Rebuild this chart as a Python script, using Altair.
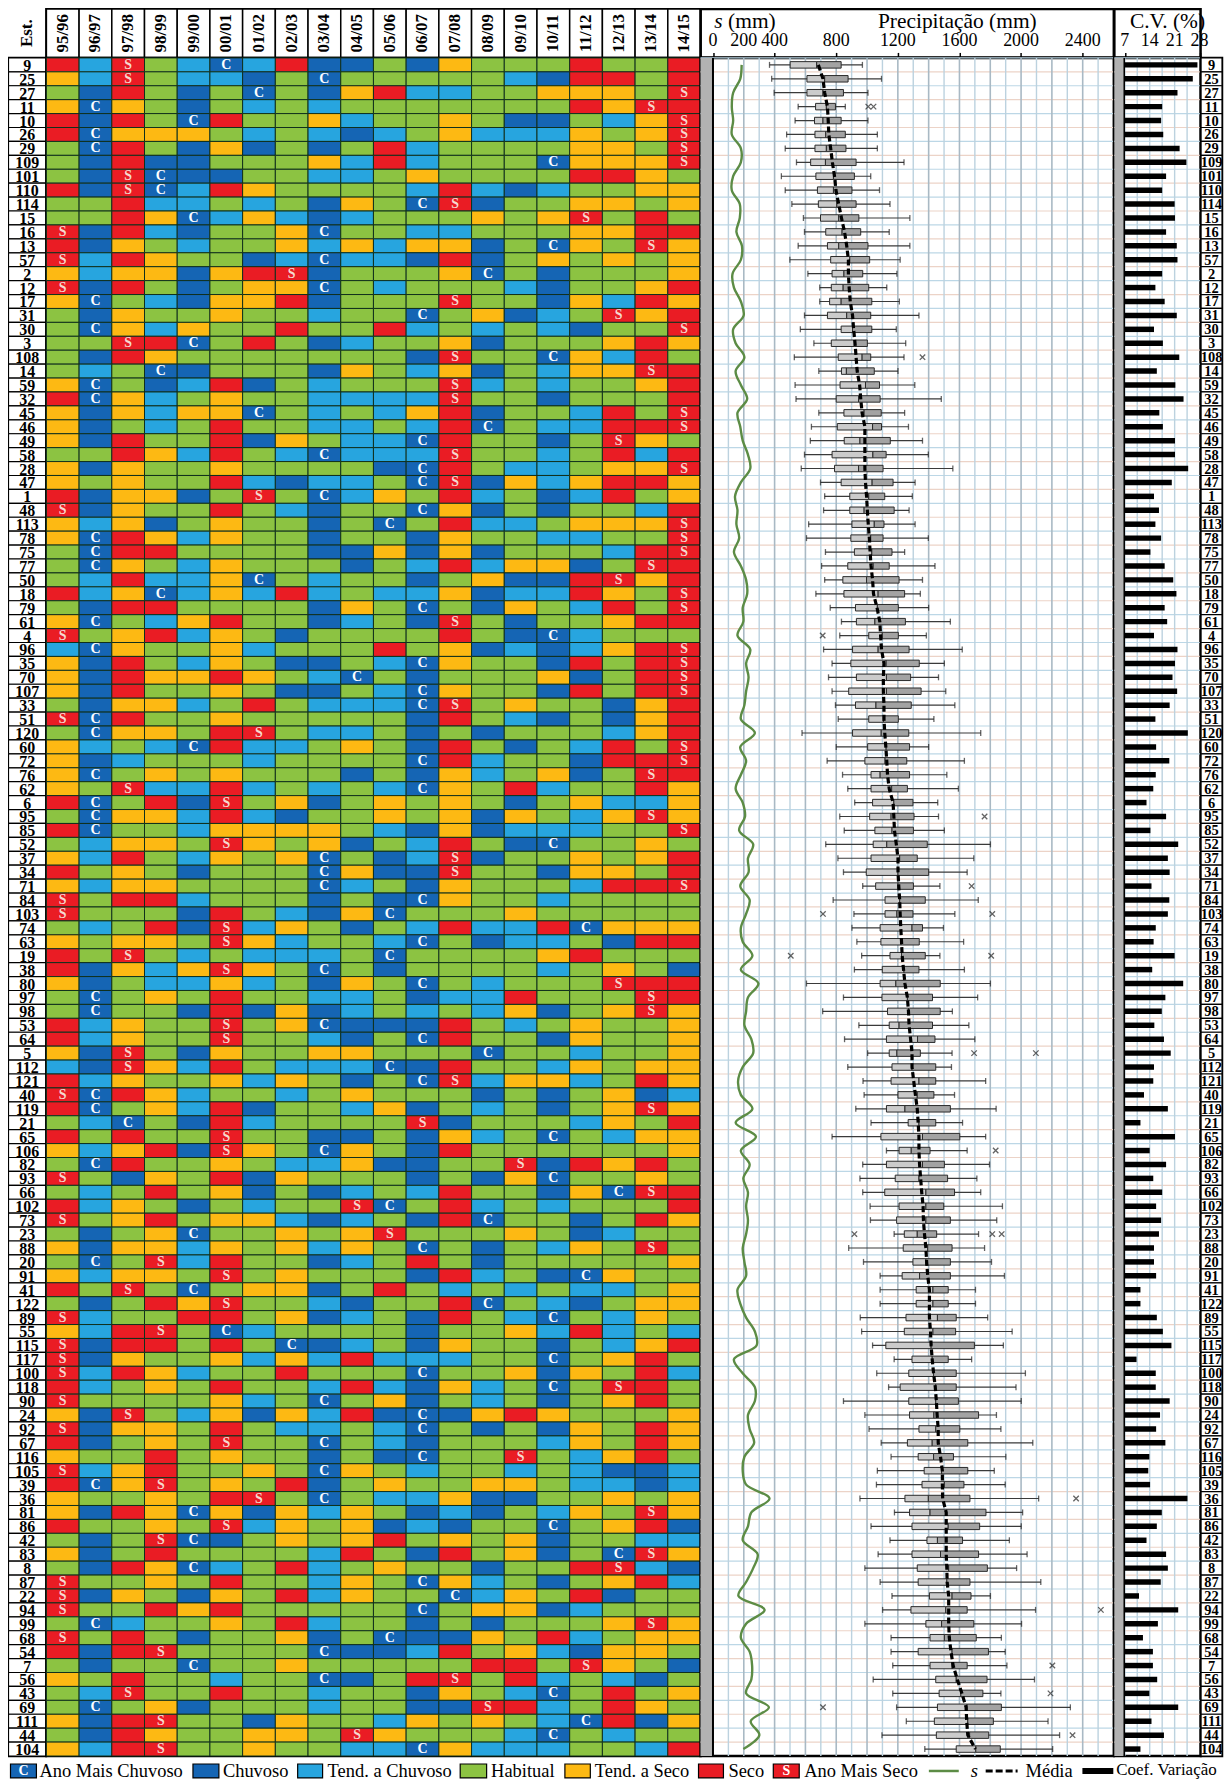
import altair as alt
import pandas as pd

YEARS = ["95/96","96/97","97/98","98/99","99/00","00/01","01/02","02/03","03/04","04/05",
         "05/06","06/07","07/08","08/09","09/10","10/11","11/12","12/13","13/14","14/15"]

EST = [9,25,27,11,10,26,29,109,101,110,114,15,16,13,57,2,12,17,31,30,3,108,
       14,59,32,45,46,49,58,28,47,1,48,113,78,75,77,50,18,79,61,4,96,35,70,107,33,51,
       120,60,72,76,62,6,95,85,52,37,34,71,84,103,74,63,19,38,80,97,98,53,64,5,112,121,
       40,119,21,65,106,82,93,66,102,73,23,88,20,91,41,122,89,55,115,117,100,118,90,24,92,
       67,116,105,39,36,81,86,42,83,8,87,22,94,99,68,54,7,56,43,69,111,44,104]

# C ano mais chuvoso, B chuvoso, L tend. a chuvoso, G habitual, Y tend. a seco, R seco, S ano mais seco
HEAT = """R L S G L C L R B B G B Y G G G R G G R
Y L S G L L B G C G G G G G L B R R G R
G B R G B G C G B Y R L L G G Y Y Y G S
Y C Y G B G L G L G G G G G G G R Y S R
R B R G C R G G Y L G G Y G B B G L Y S
R C Y Y Y G L G L B L G Y L L L Y G Y S
G C R G B Y B G B G R L G G G G Y Y G S
G B R B B G G G Y L R L G G G C Y Y Y S
G B S C B B G G L L G Y G G G G R R Y G
R B S C L R Y G G G G L R L B L G G Y Y
G G R L L G L G B Y G C S B G G Y Y G Y
G G R Y C L Y L B L G G G Y G Y S G R G
S B R L B G G Y C G G L L G G G Y Y R R
R B Y G L G G Y L Y L Y Y B G C Y G S Y
S L R Y G G B L C L L B R B G Y G Y G Y
Y L Y Y B Y R S B G G G Y C G B G G G Y
S B R G B G Y Y C G L G G G L B G G Y R
Y C G L B Y Y R B G G G S G G B Y L R Y
G B Y G G Y G G L G G C G Y B L G S Y R
G C Y L Y G G R G G R L G L G L B G G S
G G S R C G R G B L G G Y B G G G Y R Y
G B R Y G G G G G G G B S G G C Y L R G
G L G C B G G G B Y G L Y B G L Y Y S R
Y C G B L R B G L G G G S L G L G G Y R
R C Y L G Y G G L L L L S G G B G G G R
Y B Y L Y Y C G L G L Y R B G G L R G S
Y B G L G R G G L L G L R C G L L R R S
Y B R G G R B Y G L L C R G G B G S Y G
G G R Y L R G L C L L L S G G L G R L R
Y B Y G G Y G G G G B C R G L L G Y Y S
Y G Y G G R L B L L G C S B Y L Y R R Y
R B Y Y B G S G C L Y G R L G B L R G Y
S B Y G G R G L B G G C Y B G B G G L R
Y L Y B G Y G G B G C G R L L G Y Y Y S
Y C R Y L Y G G B G G B Y G G L L G G S
G C R R G G G G B B Y B Y B G G G L R S
G C Y G L Y G G G B G L R L Y Y B G S R
G L R L L Y C G L G G B G Y B B R S Y R
R L Y C L Y L R L G L L Y B L L R Y G S
G B R R G G G G B Y G C G B Y G L R G S
Y C G L Y R G G B L G B S G B G G Y R R
S G Y R L Y G B G G G G R G B C L G G G
L C Y G G Y L G G G R G Y B L B L Y R S
Y B R G L Y G B B G L C Y G G B R G R S
Y B R Y Y R Y G L C G B G G G Y B G R S
Y B R G G Y G B B G L C Y G G B R G R S
G B Y Y L G R G L L L C S G Y G G B Y R
S C R G G Y G G G G G B R G L B G B Y R
G C Y Y G R S G L L G B G B G G G L Y R
Y L G L C R L L G Y G B R G B G L R G S
Y B L G G G L G G G G C R L G G B R R S
Y C G Y G Y G G G B G B Y L G Y B G S R
Y G S L L R L G L G L C Y G R L G G R Y
R C G R B S G Y B G Y G Y G B G Y L L Y
G C Y Y L R L B G G Y G Y B Y G L Y S Y
R C G G L Y Y Y Y G L B Y B L L L G G S
G L Y Y G S Y G Y B G L R G B C G G Y G
Y L R G L Y G Y C G B L S B G G Y G Y R
R G Y G B G G G C Y B B S G G B Y Y G R
Y L Y Y G G G G C L G B Y G G G L R R S
S G R R L G G G B G B C Y G G L G G G G
S G G G B R G L B Y C G G G Y G G G G G
G L G R B S L Y G B G L R L L R C Y Y Y
Y G Y Y G S Y L G G L C G B L L G B R R
R G S G L G L L L G C G G G G Y R G G G
R B Y L Y S Y G C G B G G G G L G Y G B
Y B G L L Y L G B Y G C G L G G G S R R
G C G Y G R G G L L G B L L R G G G S R
G C G G B R B Y B L G L G L Y B G Y S Y
R L Y G G S G Y C B B B R G L G Y G G Y
R L Y G G S G G L B G C R G G B Y G G Y
Y B S G B Y G G Y Y G G G C G G L G G Y
L B S Y L R G L L L C B R G G L Y G Y Y
R L Y G G Y L Y G B G C S L Y Y L G R Y
S C R Y L G G L G Y G G G B G B G Y B L
R C G Y L R B G G L Y B G L G B G Y S Y
G L C G B R L G G G G S B G G G L Y G R
R G R G G S G G B B G B Y L G C G L Y Y
Y L Y R B S Y G C Y G B R G G G G G G Y
G C R G G Y G L L Y B B G G S B R Y R G
S G B Y G R B Y G G G B G B Y C G G Y G
G L G R G Y B G B L G L R G G B Y C S R
R L Y G B G L G G S C G R L G L G G G R
S G Y R G Y Y L B L G B R C G G B G R Y
G B G Y C G G Y G Y S G G G Y G B L G G
Y B Y Y L Y G Y L Y G C G B G L Y G S G
G C G S L R G G B L G R G B G G G G G Y
Y L Y Y G S G Y G G G B R L G B C Y G G
R G S G C G Y Y B G R G L G L G L L G Y
G B G R Y S G G L B G G R C G L B G Y Y
S L G G R R G Y B L G B R G L C G L Y G
Y L R S G C L G G G G B G G Y L R L G L
S B R R G R G C B L G B Y G G B G L Y R
S B Y G G Y L Y L R L L L G G C G Y R G
S L R Y L G G R G G G C G G Y B Y G R L
R L G Y G R G G L R L B Y L G C G S R G
S G G G G Y L G C G Y B G L G B G Y R G
Y B S G L Y B Y L R B C B Y R Y G G G Y
S B Y Y G R G L L G L C G B G B Y G R Y
R B G Y G S G G C G L B G G G L Y G R Y
Y G G R G Y G G B G B C G G S G L Y R G
S L Y R G G Y G C Y G L G G L G L B B L
R C Y S G Y G R B G Y G G Y Y G L L B L
Y G G Y G R S G C G L L Y B B G G Y G Y
Y B R Y C Y B Y L Y G B L B G L Y G S Y
R G G Y G S L Y G Y B L B G G C G Y R B
G B G S C B G Y G Y R G Y G Y B G G L L
Y B G R G G G G L R G B R G Y B G C S Y
G B R Y C L G R L G Y G G B G G R S L B
S G G Y G R G G L Y G C Y L G B G Y R L
S B Y G B Y G R L Y G G C L Y G R B G G
S G G R Y R G G G G G C G Y Y B L G G G
G C L G G Y G R L G G B G B G G G Y S Y
S G R G B G G Y B G C B B Y G R L G Y Y
R B R S G G G G C B B L R G Y L B Y Y G
G B G G C G G Y G G G G G R R G S Y G B
Y G R G G L G G C B G R S G R L G L B G
G L S G G R G G L G G B Y G L C G R G Y
G C G Y B G G G L G G B B S R L G R Y G
Y B R S G G B Y G G L Y G Y G L C R B Y
G B R Y G G Y Y G S Y G G G L C G L G G
Y L R S G G Y G G L L C Y L L L G G L R""".split("\n")

WHISK_LOW = [367,381,397,553,533,478,469,542,444,469,512,587,594,553,499,616,693,693,594,567,655,528,
 687,533,539,687,639,632,594,573,698,725,718,621,607,730,705,725,668,761,834,823,718,773,750,773,795,813,
 578,800,741,841,875,920,823,852,732,811,847,972,780,915,902,934,965,918,607,847,712,947,854,1004,875,974,
 981,927,1026,773,1126,972,954,972,1020,1022,1176,881,977,1085,1085,1085,956,965,1036,1176,1063,1140,847,986,1013,
 1092,1156,1067,1061,954,1178,1026,1149,1072,986,1085,1162,1101,986,1156,1156,1167,1040,1167,1192,1255,1097,1375]
Q1 = [501,610,610,666,659,662,662,634,668,678,684,698,732,743,764,773,768,757,743,832,768,813,
 834,825,800,850,807,852,773,789,832,888,888,902,895,918,875,843,850,925,931,1011,906,895,931,881,925,1011,
 906,1004,986,1026,1026,1036,1017,1051,1040,1026,995,1056,1117,1117,1085,1090,1149,1099,1085,1097,1133,1144,1126,1144,1162,1156,
 1201,1126,1267,1090,1208,1126,1183,1115,1208,1192,1242,1235,1298,1228,1319,1319,1253,1242,1122,1292,1271,1215,1271,1276,1337,
 1262,1332,1371,1357,1246,1276,1292,1389,1292,1326,1332,1405,1285,1382,1409,1332,1409,1446,1468,1457,1437,1450,1579]
MEDIAN = [673,725,714,736,714,732,736,730,782,782,804,816,838,816,888,850,845,832,868,906,918,968,
 866,990,945,981,1036,954,1038,945,1033,1011,981,1047,1024,1031,1040,997,1072,1067,1051,1099,1072,1124,1126,1126,1058,1106,
 1092,1124,1117,1085,1160,1174,1156,1162,1128,1212,1201,1201,1212,1194,1292,1221,1224,1240,1187,1262,1269,1208,1328,1194,1292,1337,
 1326,1246,1337,1360,1287,1360,1337,1382,1382,1382,1326,1394,1382,1341,1428,1428,1457,1428,1416,1423,1432,1446,1446,1434,1446,
 1423,1432,1484,1502,1398,1409,1527,1457,1477,1530,1518,1552,1511,1484,1502,1552,1552,1579,1609,1650,1654,1666,1706]
Q3 = [832,877,847,795,832,859,863,929,918,902,929,947,959,1006,1017,972,1011,1031,1024,1031,1002,1024,
 1047,1081,1085,1092,1094,1151,1124,1104,1169,1115,1176,1110,1104,1162,1144,1208,1244,1203,1249,1203,1273,1339,1283,1351,1287,1203,
 1271,1276,1258,1276,1262,1298,1305,1301,1391,1326,1400,1301,1378,1298,1360,1339,1378,1337,1475,1425,1475,1425,1441,1346,1446,1446,
 1434,1541,1446,1602,1409,1502,1523,1568,1498,1541,1452,1552,1541,1541,1527,1527,1579,1575,1697,1527,1579,1579,1593,1724,1602,
 1654,1561,1654,1629,1668,1772,1731,1620,1724,1781,1668,1675,1650,1693,1709,1788,1650,1779,1752,1872,1820,1790,1865]
WHISK_HIGH = [970,1094,1006,859,1006,1067,1067,1240,1024,1081,1149,1278,1144,1278,1215,1194,1128,1210,1337,1190,1251,1240,
 1201,1310,1482,1244,1269,1360,1398,1557,1312,1294,1273,1312,1398,1244,1441,1360,1346,1400,1541,1385,1618,1502,1464,1511,1570,1434,
 1738,1400,1632,1518,1593,1459,1464,1502,1801,1693,1650,1473,1722,1570,1496,1627,1473,1632,1801,1718,1554,1661,1700,1552,1548,1770,
 1568,1838,1620,1770,1650,1795,1713,1738,1879,1842,1724,1763,1808,1892,1704,1704,1783,1942,1885,1679,2028,1967,2001,1840,1869,
 2076,1901,1826,1897,2114,2010,2001,1924,2039,1971,2128,1801,2094,2003,1872,1897,1908,2087,1869,2320,2175,2250,2205]
MEAN = [684,714,725,743,748,752,764,775,789,798,816,834,854,868,879,879,884,891,906,913,922,929,
 936,952,959,968,986,986,986,986,990,997,1002,1008,1015,1020,1026,1036,1042,1065,1083,1088,1094,1110,1106,1106,1110,1110,
 1115,1122,1128,1133,1144,1169,1174,1178,1190,1201,1201,1206,1212,1215,1219,1224,1228,1237,1246,1262,1269,1273,1283,1292,1292,1303,
 1314,1326,1332,1337,1337,1341,1348,1355,1364,1366,1373,1382,1387,1394,1405,1405,1405,1412,1416,1423,1432,1443,1450,1455,1462,
 1462,1477,1489,1489,1491,1514,1514,1514,1514,1518,1520,1530,1530,1530,1534,1545,1559,1586,1616,1643,1647,1654,1704]
STD = [186,177,131,122,131,122,181,181,131,122,174,174,152,188,181,127,136,181,199,131,147,204,
 147,181,222,159,177,193,227,242,181,143,159,152,170,136,181,215,222,193,197,159,242,215,231,215,204,181,
 272,177,215,181,147,193,208,170,261,227,231,177,238,215,181,193,256,181,295,227,215,204,249,261,193,163,
 181,256,147,279,181,238,197,227,215,227,215,193,204,215,159,177,215,272,283,136,193,272,272,227,238,
 267,204,193,215,367,249,227,193,290,261,215,165,335,215,181,238,254,249,215,363,245,301,197]
CV = [27.4,26.1,21.8,17.5,17.2,17.8,22.4,24.3,18.6,17.5,21.0,21.1,18.6,21.6,21.8,17.5,15.6,18.2,21.6,15.2,17.7,22.3,
 16.0,21.2,23.5,16.7,17.7,21.1,21.1,24.8,20.2,15.2,16.6,15.6,17.2,14.2,18.2,20.6,21.5,18.2,18.9,15.2,21.8,21.1,20.4,21.7,19.6,15.6,
 24.7,15.8,19.5,15.7,15.0,13.1,18.6,14.2,22.0,19.1,19.6,14.5,19.5,19.1,15.7,15.1,21.0,14.7,23.4,18.4,17.4,15.3,18.0,19.9,15.2,15.0,
 12.4,19.1,11.4,21.1,14.0,18.6,15.0,17.5,15.8,17.2,16.6,15.2,15.2,15.8,11.4,11.4,16.0,17.7,20.1,10.3,15.7,15.7,19.6,16.9,15.8,
 18.4,13.9,13.6,14.1,24.6,17.4,16.0,13.1,18.6,19.1,17.1,11.0,22.0,16.3,12.1,14.9,14.9,16.1,13.9,22.0,14.5,18.0,11.4]

OUT_EST = [11,11,108,4,95,71,103,103,19,19,5,5,106,23,23,23,36,94,7,43,69,44]
OUT_VAL = [1008,1042,1360,712,1763,1679,714,1813,505,1806,1695,2096,1835,918,1813,1874,2357,2518,2203,2191,714,2334]

LEG_SW_X = [2,185,290,453,558,692,767]
LEG_SW_X2 = [28,211,315,479.5,583.5,717,793]
LEG_CODE = ["C","B","L","G","Y","R","S"]
LEG_TXT = ["Ano Mais Chuvoso","Chuvoso","Tend. a Chuvoso","Habitual","Tend. a Seco","Seco","Ano Mais Seco"]
LEG_TXT_X = [31,215,320,484,588,722,798]

CODE_COLORS = {"C":"#1565b4","B":"#1565b4","L":"#27a5df","G":"#8cc342","Y":"#fdb913","R":"#ea1c24","S":"#ea1c24"}

BOX_LABELS = [0, 200, 400, 800, 1200, 1600, 2000, 2400]
CV_LABELS = [7, 14, 21, 28]

FONT = "Liberation Serif"
H_HEAD, H_BODY, H_LEG = 48.5, 1703, 25
W_EST, W_HEAT, W_BOX, W_CV, W_LBL = 37.5, 656, 414.5, 86.5, 21

est = [str(e) for e in EST]
stats = pd.DataFrame(dict(est=est, row=range(len(est)), low=WHISK_LOW, q1=Q1, med=MEDIAN, q3=Q3,
                          high=WHISK_HIGH, mean=MEAN, std=STD, cv=CV))
stats["base"] = 7
stats["parity"] = ["a" if i % 2 else "b" for i in range(len(est))]

heat_rows = []
for e, line in zip(est, HEAT):
    codes = line.split()
    assert len(codes) == len(YEARS), e
    heat_rows += [dict(est=e, year=y, code=c) for y, c in zip(YEARS, codes)]
heat = pd.DataFrame(heat_rows)
assert len(HEAT) == len(est)

Y_SCALE = alt.Scale(type="band", domain=est, paddingInner=0, paddingOuter=0, round=False)
Y_ = alt.Y("est:N", scale=Y_SCALE, axis=None)
YR_SCALE = alt.Scale(type="band", domain=YEARS, paddingInner=0, paddingOuter=0, round=False)
XB = alt.Scale(domain=[-81, 2602], nice=False, zero=False)
XC = alt.Scale(domain=[4.06, 28.28], nice=False, zero=False)
COLOR_SCALE = alt.Scale(domain=list(CODE_COLORS), range=list(CODE_COLORS.values()))
Y_EDGE = alt.Y("est:N", scale=Y_SCALE, axis=None, bandPosition=0)

row_rules = [
    alt.Chart(stats).transform_filter("datum.parity == 'a'").mark_rule(strokeWidth=1.2, color="#ecd3c7").encode(y=Y_EDGE),
    alt.Chart(stats).transform_filter("datum.parity == 'b'").mark_rule(strokeWidth=1.2, color="#bcd7e6").encode(y=Y_EDGE),
]

# ---------- header row
est_head = alt.Chart(pd.DataFrame({"t": ["Est."]})).mark_text(
    font=FONT, fontSize=17, fontWeight="bold", angle=270, color="black").encode(text="t:N").properties(
    width=W_EST, height=H_HEAD)

yr_df = pd.DataFrame({"year": YEARS})
yr_head = alt.layer(
    alt.Chart(yr_df).mark_rect(fill="white", stroke="black", strokeWidth=1.5).encode(
        x=alt.X("year:N", scale=YR_SCALE, axis=None)),
    alt.Chart(yr_df).mark_text(font=FONT, fontSize=17, fontWeight="bold", angle=270, color="black").encode(
        x=alt.X("year:N", scale=YR_SCALE, axis=None), text="year:N"),
).properties(width=W_HEAT, height=H_HEAD)

TITLE_FS, TICK_FS = 21.5, 18
TITLE_Y, TICK_Y = 12.5, 32.5
box_head = alt.layer(
    alt.Chart(pd.DataFrame({"x": [1586], "t": ["Precipitação (mm)"]})).mark_text(
        font=FONT, fontSize=TITLE_FS, align="center", color="black").encode(
        x=alt.X("x:Q", scale=XB, axis=alt.Axis(
            orient="top", offset=-H_HEAD, values=list(range(0, 2600, 200)), title=None, grid=False,
            labels=False, tickColor="black", tickSize=5, tickWidth=1.5, domain=False)),
        y=alt.value(TITLE_Y), text="t:N"),
    alt.Chart(pd.DataFrame({"x": [98], "t": ["(mm)"]})).mark_text(
        font=FONT, fontSize=TITLE_FS, align="left", color="black").encode(
        x=alt.X("x:Q", scale=XB), y=alt.value(TITLE_Y), text="t:N"),
    alt.Chart(pd.DataFrame({"x": [8], "t": ["s"]})).mark_text(
        font=FONT, fontSize=TITLE_FS, fontStyle="italic", align="left", color="black").encode(
        x=alt.X("x:Q", scale=XB), y=alt.value(TITLE_Y), text="t:N"),
    alt.Chart(pd.DataFrame({"x": BOX_LABELS})).mark_text(
        font=FONT, fontSize=TICK_FS, color="black").encode(
        x=alt.X("x:Q", scale=XB), y=alt.value(TICK_Y), text="x:Q"),
).properties(width=W_BOX, height=H_HEAD)

cv_head = alt.layer(
    alt.Chart(pd.DataFrame({"x": [19], "t": ["C.V. (%)"]})).mark_text(
        font=FONT, fontSize=TITLE_FS, color="black").encode(
        x=alt.X("x:Q", scale=XC, axis=alt.Axis(
            orient="top", offset=-H_HEAD, values=[7, 10.5, 14, 17.5, 21, 24.5, 28], title=None, grid=False,
            labels=False, tickColor="black", tickSize=5, tickWidth=1.5, domain=False)),
        y=alt.value(TITLE_Y), text="t:N"),
    alt.Chart(pd.DataFrame({"x": CV_LABELS})).mark_text(
        font=FONT, fontSize=TICK_FS, color="black").encode(
        x=alt.X("x:Q", scale=XC), y=alt.value(TICK_Y), text="x:Q"),
).properties(width=W_CV, height=H_HEAD)

lbl_head = alt.Chart(pd.DataFrame({"t": [""]})).mark_text().encode(text="t:N").properties(width=W_LBL, height=H_HEAD)


# ---------- body row
def label_col(w, fs):
    return alt.layer(
        alt.Chart(stats).mark_rect(fill="white", stroke="black", strokeWidth=1.2).encode(y=Y_),
        alt.Chart(stats).mark_text(font=FONT, fontSize=fs, fontWeight="bold", color="black", dy=1).encode(
            y=Y_, text="est:N"),
    ).properties(width=w, height=H_BODY)


heat_x = alt.X("year:N", scale=YR_SCALE, axis=None)
heat_body = alt.layer(
    alt.Chart(heat).mark_rect(stroke="#10301c", strokeWidth=1).encode(
        x=heat_x, y=Y_, color=alt.Color("code:N", scale=COLOR_SCALE, legend=None)),
    alt.Chart(heat).transform_filter("datum.code == 'C'").mark_text(
        font=FONT, fontSize=14, fontWeight="bold", color="#ffffff").encode(x=heat_x, y=Y_, text="code:N"),
    alt.Chart(heat).transform_filter("datum.code == 'S'").mark_text(
        font=FONT, fontSize=14, fontWeight="bold", color="#f6d9cf").encode(x=heat_x, y=Y_, text="code:N"),
).properties(width=W_HEAT, height=H_BODY)

vb = pd.DataFrame({"v": list(range(0, 2600, 100))})
xb = alt.X("v:Q", scale=XB, axis=None)
band = pd.DataFrame({"a": [-81], "b": [0]})
outl = pd.DataFrame({"est": [str(e) for e in OUT_EST], "v": OUT_VAL})
box_body = alt.layer(
    *row_rules,
    alt.Chart(vb).transform_filter("datum.v % 200 == 0").mark_rule(color="#a9b9c4", strokeWidth=1.6).encode(x=xb),
    alt.Chart(vb).transform_filter("datum.v % 200 != 0").mark_rule(color="#bcd2df", strokeWidth=1.4).encode(x=xb),
    alt.Chart(band).mark_rect(fill="#b2b2b2").encode(x=alt.X("a:Q", scale=XB, axis=None), x2="b:Q"),
    alt.Chart(pd.DataFrame({"v": [0]})).mark_rule(color="black", strokeWidth=2).encode(x=xb),
    alt.Chart(stats).mark_line(color="#5c8c45", strokeWidth=2.4, interpolate="catmull-rom").encode(
        x=alt.X("std:Q", scale=XB, axis=None), y=Y_, order="row:Q"),
    alt.Chart(stats).mark_rule(color="#3a3a3a", strokeWidth=1.2).encode(
        x=alt.X("low:Q", scale=XB, axis=None), x2="high:Q", y=Y_),
    alt.Chart(stats).mark_tick(color="#222222", thickness=1.3, size=6).encode(
        x=alt.X("low:Q", scale=XB, axis=None), y=Y_),
    alt.Chart(stats).mark_tick(color="#222222", thickness=1.3, size=6).encode(
        x=alt.X("high:Q", scale=XB, axis=None), y=Y_),
    alt.Chart(stats).mark_bar(size=6.5, fill="#cbcbcb", stroke="#2a2a2a", strokeWidth=1).encode(
        x=alt.X("q1:Q", scale=XB, axis=None), x2="med:Q", y=Y_),
    alt.Chart(stats).mark_bar(size=6.5, fill="#a3a3a3", stroke="#2a2a2a", strokeWidth=1).encode(
        x=alt.X("med:Q", scale=XB, axis=None), x2="q3:Q", y=Y_),
    alt.Chart(stats).mark_line(color="black", strokeWidth=3.2, strokeDash=[6, 3]).encode(
        x=alt.X("mean:Q", scale=XB, axis=None), y=Y_, order="row:Q"),
    alt.Chart(outl).mark_point(shape="M-1,-1L1,1M-1,1L1,-1", size=30, stroke="#222222", strokeWidth=1.3, filled=False).encode(
        x=xb, y=Y_),
).properties(width=W_BOX, height=H_BODY)

vc = pd.DataFrame({"v": [7, 10.5, 14, 17.5, 21, 24.5]})
xc = alt.X("v:Q", scale=XC, axis=None)
cv_body = alt.layer(
    *row_rules,
    alt.Chart(vc).mark_rule(color="#bcd2df", strokeWidth=1.4).encode(x=xc),
    alt.Chart(pd.DataFrame({"a": [4.06], "b": [6.75]})).mark_rect(fill="#b2b2b2").encode(
        x=alt.X("a:Q", scale=XC, axis=None), x2="b:Q"),
    alt.Chart(pd.DataFrame({"v": [6.85]})).mark_rule(color="black", strokeWidth=1.6).encode(x=xc),
    alt.Chart(stats).mark_bar(size=5.5, color="black").encode(
        x=alt.X("base:Q", scale=XC, axis=None), x2="cv:Q", y=Y_),
).properties(width=W_CV, height=H_BODY)

# ---------- legend row (scale in pixels of the legend strip)
XL = alt.Scale(domain=[0, W_EST], nice=False, zero=False)
sw = pd.DataFrame({"x": LEG_SW_X, "x2": LEG_SW_X2, "code": LEG_CODE, "c": [CODE_COLORS[c] for c in LEG_CODE],
                   "letter": [c if c in "CS" else "" for c in LEG_CODE]})
sw["mid"] = (sw["x"] + sw["x2"]) / 2
tx = pd.DataFrame({"x": LEG_TXT_X + [1020], "t": LEG_TXT + ["Média"]})
ln = pd.DataFrame({"name": ["s", "Média", "Coef"], "x": [923, 980, 1077], "x2": [953, 1012, 1108]})
LY = 15
legend = alt.layer(
    alt.Chart(sw).mark_rect(stroke="black", strokeWidth=1.2).encode(
        x=alt.X("x:Q", scale=XL, axis=None), x2="x2:Q", y=alt.value(LY - 7), y2=alt.value(LY + 7),
        fill=alt.Color("c:N", scale=None)),
    alt.Chart(sw).transform_filter("datum.letter != ''").mark_text(
        font=FONT, fontSize=14, fontWeight="bold", color="white").encode(
        x=alt.X("mid:Q", scale=XL), y=alt.value(LY), text="letter:N"),
    alt.Chart(tx).mark_text(font=FONT, fontSize=18.5, align="left", color="black").encode(
        x=alt.X("x:Q", scale=XL), y=alt.value(LY), text="t:N"),
    alt.Chart(pd.DataFrame({"x": [1111], "t": ["Coef. Variação"]})).mark_text(
        font=FONT, fontSize=17, align="left", color="black").encode(
        x=alt.X("x:Q", scale=XL), y=alt.value(LY - 1), text="t:N"),
    alt.Chart(pd.DataFrame({"x": [965], "t": ["s"]})).mark_text(
        font=FONT, fontSize=18.5, fontStyle="italic", align="left", color="black").encode(
        x=alt.X("x:Q", scale=XL), y=alt.value(LY), text="t:N"),
    alt.Chart(ln[ln.name == "s"]).mark_rule(color="#5c8c45", strokeWidth=2.5).encode(
        x=alt.X("x:Q", scale=XL), x2="x2:Q", y=alt.value(LY)),
    alt.Chart(ln[ln.name == "Média"]).mark_rule(color="black", strokeWidth=3, strokeDash=[7, 3]).encode(
        x=alt.X("x:Q", scale=XL), x2="x2:Q", y=alt.value(LY)),
    alt.Chart(ln[ln.name == "Coef"]).mark_rule(color="black", strokeWidth=6).encode(
        x=alt.X("x:Q", scale=XL), x2="x2:Q", y=alt.value(LY)),
).properties(width=W_EST, height=H_LEG, view=alt.ViewConfig(stroke="transparent"))

chart = alt.concat(
    est_head, yr_head, box_head, cv_head, lbl_head,
    label_col(W_EST, 16), heat_body, box_body, cv_body, label_col(W_LBL, 14.5),
    legend,
    columns=5, spacing=0, bounds="flush", align="each",
    padding={"left": -1.5, "top": -3.5, "right": 0, "bottom": 0},
    background="white",
).configure_view(stroke="black", strokeWidth=2.5)

chart.save("out.html", embed_options={"renderer": "svg", "actions": False})
